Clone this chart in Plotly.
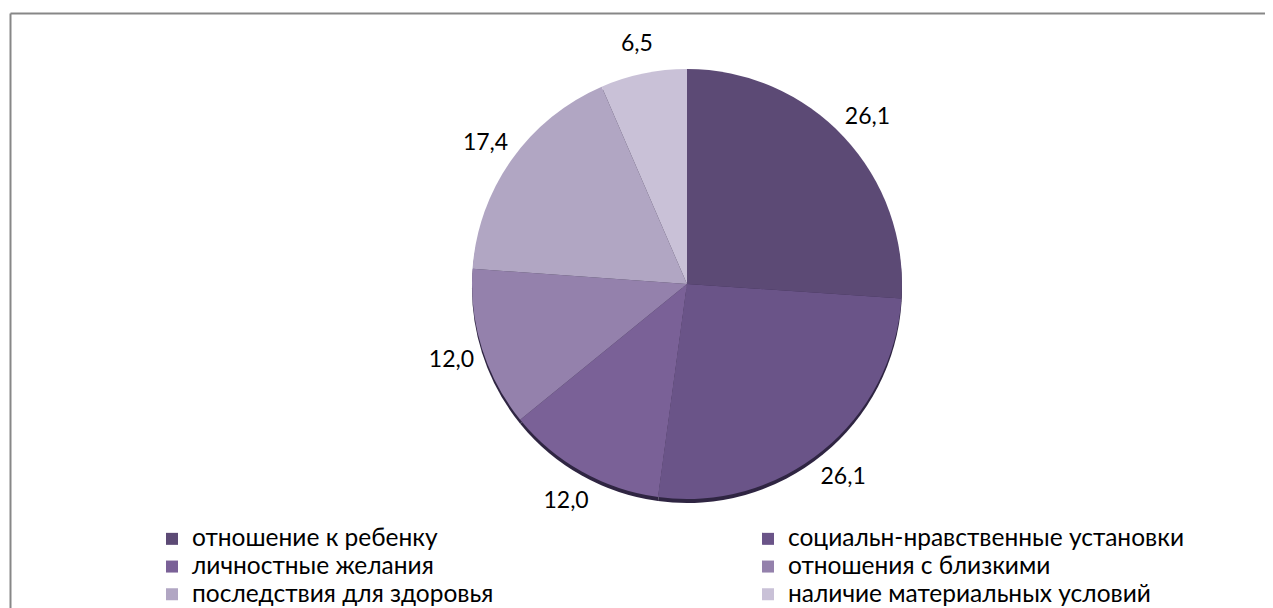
import plotly.graph_objects as go

categories = [
    "отношение к ребенку",
    "социальн-нравственные установки",
    "личностные желания",
    "отношения с близкими",
    "последствия для здоровья",
    "наличие материальных условий",
]
values = [26.1, 26.1, 12.0, 12.0, 17.4, 6.5]
colors = ["#5c4a75", "#6a5488", "#7a6197", "#9481ac", "#b1a6c3", "#c9c1d7"]

W, H = 1273, 608
OFF = 8                      # page body margin of the browser
cx, cy, r = 687 - OFF, 284 - OFF, 215   # pie centre / radius (figure pixels)
FONT = "Lato, 'Open Sans', sans-serif"


def dom(cx_, cy_, rad):
    return dict(x=[(cx_ - rad) / W, (cx_ + rad) / W],
                y=[(H - cy_ - rad) / H, (H - cy_ + rad) / H])


legend_labels = ['<span style="font-size:24.5px">%s</span>' % c for c in categories]

fig = go.Figure()

# shadow under the pie
fig.add_trace(go.Pie(
    labels=legend_labels, values=values, sort=False, direction="clockwise",
    marker=dict(colors=["#2f2542"] * len(values), line=dict(width=0)),
    textinfo="none", hoverinfo="skip", showlegend=False,
    domain=dom(cx, cy + 4, r),
))

# main pie
fig.add_trace(go.Pie(
    labels=legend_labels, values=values, sort=False, direction="clockwise",
    marker=dict(colors=colors, line=dict(width=0)),
    textinfo="none", showlegend=True,
    domain=dom(cx, cy, r),
))

# transparent ring used to place the value labels outside the pie
R_out, R_in = 275, 219
fig.add_trace(go.Pie(
    labels=legend_labels, values=values, sort=False, direction="clockwise",
    hole=R_in / R_out,
    marker=dict(colors=["rgba(0,0,0,0)"] * len(values), line=dict(width=0)),
    texttemplate="%{value:.1f}", textposition="inside",
    insidetextorientation="horizontal",
    insidetextfont=dict(family=FONT, size=23, color="#000000"),
    hoverinfo="skip", showlegend=False,
    domain=dom(cx, cy, R_out),
))

fig.update_layout(
    width=W, height=H,
    separators=", ",
    paper_bgcolor="white", plot_bgcolor="white",
    margin=dict(l=0, r=0, t=0, b=0, autoexpand=False),
    font=dict(family=FONT, size=23, color="#000000"),
    legend=dict(
        orientation="h", x=(152 - OFF) / W, xanchor="left",
        y=1 - (520 - OFF) / H, yanchor="top",
        entrywidth=551, entrywidthmode="pixels",
        font=dict(family=FONT, size=19, color="#000000"),
        tracegroupgap=0, itemwidth=30,
        bgcolor="rgba(0,0,0,0)",
    ),
    shapes=[
        dict(type="line", xref="paper", yref="paper",
             x0=(10.5 - OFF) / W, x1=1.0, y0=1 - (13.5 - OFF) / H, y1=1 - (13.5 - OFF) / H,
             line=dict(color="#878787", width=2)),
        dict(type="line", xref="paper", yref="paper",
             x0=(10.5 - OFF) / W, x1=(10.5 - OFF) / W, y0=0, y1=1 - (13.5 - OFF) / H,
             line=dict(color="#878787", width=2)),
    ],
)

fig.write_html("out.html")
